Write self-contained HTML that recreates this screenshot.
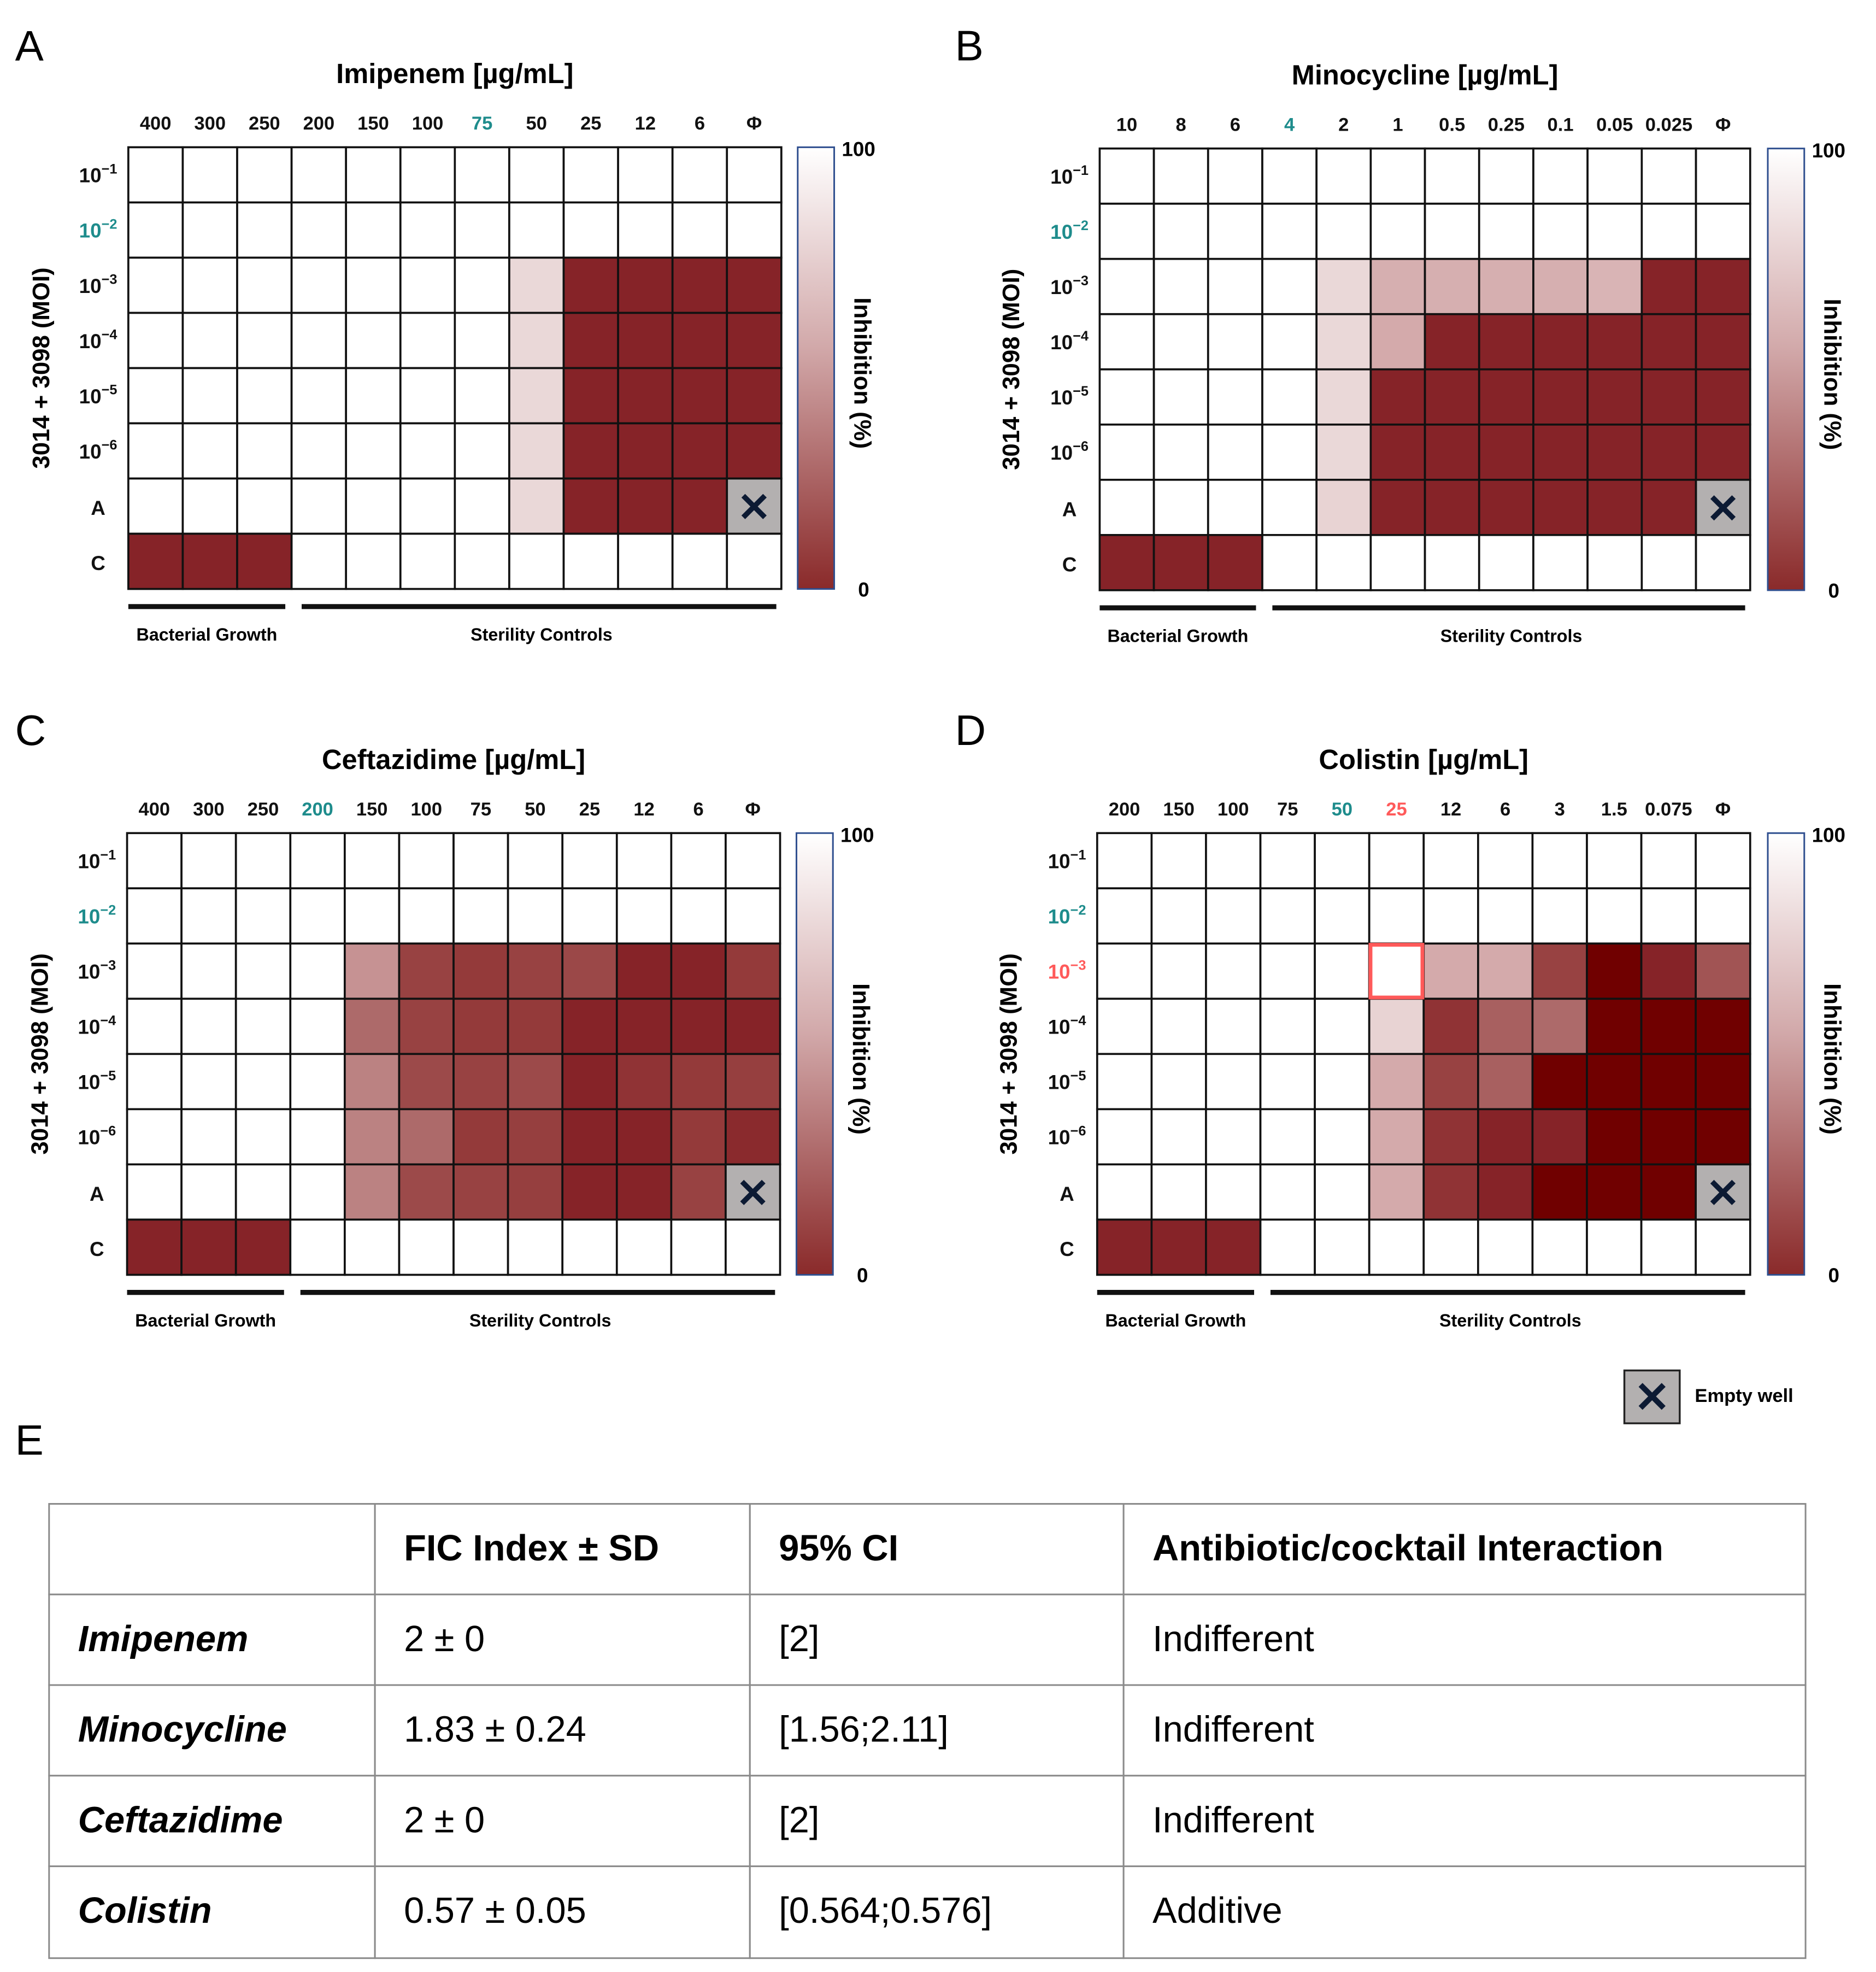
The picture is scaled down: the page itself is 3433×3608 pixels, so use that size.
<!DOCTYPE html>
<html><head><meta charset="utf-8"><style>
html,body{margin:0;padding:0;background:#fff;}
svg{display:block;font-family:"Liberation Sans",sans-serif;}
</style></head><body>
<svg id="fig" width="3433" height="3608" viewBox="0 0 1491 1567" preserveAspectRatio="none" xmlns="http://www.w3.org/2000/svg">
<defs><linearGradient id="cb" x1="0" y1="0" x2="0" y2="1"><stop offset="0" stop-color="#ffffff"/><stop offset="0.45" stop-color="#d2a9aa"/><stop offset="1" stop-color="#8a2a2a"/></linearGradient></defs>
<g id="root"></g>
<g>
<rect x="1291" y="1089" width="44" height="42" fill="#b3b0b0" stroke="#222" stroke-width="1.5"/>
<text x="1313" y="1122" text-anchor="middle" font-size="34" font-weight="bold" fill="#0c1a33">✕</text>
<text x="1347" y="1114" font-size="15" font-weight="bold">Empty well</text>
</g>
<text x="12" y="1156" font-size="34">E</text>
<g id="table"></g>
</svg>
<script>
const rowLabels=["-1","-2","-3","-4","-5","-6","A","C"];
const colsA=["400","300","250","200","150","100","75","50","25","12","6","Φ"];
const colsB=["10","8","6","4","2","1","0.5","0.25","0.1","0.05","0.025","Φ"];
const colsC=["400","300","250","200","150","100","75","50","25","12","6","Φ"];
const colsD=["200","150","100","75","50","25","12","6","3","1.5","0.075","Φ"];
const W=100,E=-1;
const valsA=[
[W,W,W,W,W,W,W,W,W,W,W,W],[W,W,W,W,W,W,W,W,W,W,W,W],
[W,W,W,W,W,W,W,90,15,15,15,15],[W,W,W,W,W,W,W,90,15,15,15,15],
[W,W,W,W,W,W,W,90,15,15,15,15],[W,W,W,W,W,W,W,90,15,15,15,15],
[W,W,W,W,W,W,W,90,15,15,15,E],[15,15,15,W,W,W,W,W,W,W,W,W]];
const valsB=[
[W,W,W,W,W,W,W,W,W,W,W,W],[W,W,W,W,W,W,W,W,W,W,W,W],
[W,W,W,W,90,74,74,74,74,76,15,15],[W,W,W,W,90,72,15,15,15,15,15,15],
[W,W,W,W,90,15,15,15,15,15,15,15],[W,W,W,W,90,15,15,15,15,15,15,15],
[W,W,W,W,88,15,15,15,15,15,15,E],[15,15,15,W,W,W,W,W,W,W,W,W]];
const valsC=[
[W,W,W,W,W,W,W,W,W,W,W,W],[W,W,W,W,W,W,W,W,W,W,W,W],
[W,W,W,W,62,30,25,30,34,15,15,25],[W,W,W,W,45,30,25,25,15,15,15,15],
[W,W,W,W,55,35,30,35,15,22,25,28],[W,W,W,W,55,45,25,28,15,15,25,18],
[W,W,W,W,55,35,30,28,15,15,30,E],[15,15,15,W,W,W,W,W,W,W,W,W]];
const valsD=[
[W,W,W,W,W,W,W,W,W,W,W,W],[W,W,W,W,W,W,W,W,W,W,W,W],
[W,W,W,W,W,W,72,72,30,0,15,38],[W,W,W,W,W,88,22,42,45,0,0,0],
[W,W,W,W,W,72,30,42,0,0,0,0],[W,W,W,W,W,72,22,15,15,0,0,0],
[W,W,W,W,W,72,22,15,0,0,0,E],[15,15,15,W,W,W,W,W,W,W,W,W]];
const titles=["Imipenem [µg/mL]","Minocycline [µg/mL]","Ceftazidime [µg/mL]","Colistin [µg/mL]"];
const tableHead=["","FIC Index ± SD","95% CI","Antibiotic/cocktail Interaction"];
const tableRows=[["Imipenem","2 ± 0","[2]","Indifferent"],["Minocycline","1.83 ± 0.24","[1.56;2.11]","Indifferent"],["Ceftazidime","2 ± 0","[2]","Indifferent"],["Colistin","0.57 ± 0.05","[0.564;0.576]","Additive"]];

const NS="http://www.w3.org/2000/svg";
function mk(tag,at,parent){const e=document.createElementNS(NS,tag);for(const k in at)e.setAttribute(k,at[k]);parent.appendChild(e);return e;}
const stops=[[0,[112,0,0]],[15,[134,35,40]],[25,[148,58,58]],[35,[156,74,74]],[45,[173,106,106]],[72,[212,170,171]],[90,[234,216,216]],[100,[255,255,255]]];
function color(v){for(let i=1;i<stops.length;i++){if(v<=stops[i][0]){const a=stops[i-1],b=stops[i];const t=(v-a[0])/(b[0]-a[0]);const c=a[1].map((x,j)=>Math.round(x+(b[1][j]-x)*t));return `rgb(${c})`;}}return "#fff";}
const root=document.getElementById('root');
const panels=[
{L:"A",lx:12,ly:48,x0:102,y0:117,x1:621,y1:468,cols:colsA,vals:valsA,teal:[6],red:[],redRow:-1,colY:103,rowX:78,yt:32,cbx:634},
{L:"B",lx:759,ly:48,x0:874,y0:118,x1:1391,y1:469,cols:colsB,vals:valsB,teal:[3],red:[],redRow:-1,colY:104,rowX:850,yt:803,cbx:1405},
{L:"C",lx:12,ly:592,x0:101,y0:662,x1:620,y1:1013,cols:colsC,vals:valsC,teal:[3],red:[],redRow:-1,colY:648,rowX:77,yt:31,cbx:633},
{L:"D",lx:759,ly:592,x0:872,y0:662,x1:1391,y1:1013,cols:colsD,vals:valsD,teal:[4],red:[5],redRow:2,colY:648,rowX:848,yt:801,cbx:1405}];
panels.forEach((p,pi)=>{
 const g=mk('g',{},root);
 
 
 const cw=(p.x1-p.x0)/12,ch=(p.y1-p.y0)/8;
 const xs=i=>p.x0+i*cw, ys=j=>p.y0+j*ch;
 const pl=mk('text',{x:p.lx,y:p.ly,'font-size':34},g);pl.textContent=p.L;
 
 
 const tt=mk('text',{x:(p.x0+p.x1)/2,y:p.colY-37,'font-size':22,'font-weight':'bold','text-anchor':'middle'},g);tt.textContent=titles[pi];
 
 
 p.cols.forEach((c,i)=>{const col=p.red.includes(i)?"#ff5a5a":p.teal.includes(i)?"#1e8c8c":"#111";
  const t=mk('text',{x:xs(i)+cw/2,y:p.colY,'font-size':15,'font-weight':'bold','text-anchor':'middle',fill:col},g);t.textContent=c;
  
  });
 rowLabels.forEach((r,j)=>{const col=(j===p.redRow)?"#ff5a5a":(j===1?"#1e8c8c":"#111");
  const t=mk('text',{x:p.rowX,y:ys(j)+ch/2+(j>=6?7:6),'font-size':16,'font-weight':'bold','text-anchor':'middle',fill:col},g);
  
  
  if(j<6){t.textContent="10";const s=mk('tspan',{dy:-7,'font-size':11},t);s.textContent="−"+r.slice(1);}else t.textContent=r;});
 const yt=mk('text',{transform:`translate(${p.yt+7},${(p.y0+p.y1)/2}) rotate(-90)`,'font-size':19,'font-weight':'bold','text-anchor':'middle'},g);yt.textContent="3014 + 3098 (MOI)";
 
 
 p.vals.forEach((row,j)=>row.forEach((v,i)=>{
  const r=mk('rect',{x:xs(i),y:ys(j),width:cw,height:ch,fill:v<0?"#b3b0b0":color(v),stroke:"#111","stroke-width":1.6},g);
  
  
  if(v<0){const x=mk('text',{x:xs(i)+cw/2,y:ys(j)+ch/2+12,'font-size':32,'font-weight':'bold','text-anchor':'middle',fill:'#0c1a33'},g);x.textContent="✕";
   
   }
 }));
 if(p.redRow>=0){const f=mk('rect',{x:xs(p.red[0])+1,y:ys(p.redRow)+1,width:cw-2,height:ch-2,fill:'none',stroke:'#ff5a5a','stroke-width':3},g);
  
  }
 const cb=mk('rect',{x:p.cbx,y:p.y0,width:29,height:p.y1-p.y0,fill:'url(#cb)',stroke:'#2f4f8f','stroke-width':1.3},g);
 
 
 const c1=mk('text',{x:p.cbx+35,y:p.y0+7,'font-size':16,'font-weight':'bold'},g);c1.textContent="100";
 
 
 const c0=mk('text',{x:p.cbx+48,y:p.y1+6,'font-size':16,'font-weight':'bold'},g);c0.textContent="0";
 
 
 const ct=mk('text',{transform:`translate(${p.cbx+45},${(p.y0+p.y1)/2-governorOffset()}) rotate(90)`,'font-size':19,'font-weight':'bold','text-anchor':'middle'},g);ct.textContent="Inhibition (%)";
 
 
 const ly=p.y1+14;
 mk('line',{x1:p.x0,y1:ly,x2:xs(3)-5,y2:ly,stroke:'#111','stroke-width':4},g);
 mk('line',{x1:xs(3)+8,y1:ly,x2:p.x1-4,y2:ly,stroke:'#111','stroke-width':4},g);
 const b1=mk('text',{x:(p.x0+xs(3)-5)/2,y:ly+27,'font-size':14,'font-weight':'bold','text-anchor':'middle'},g);b1.textContent="Bacterial Growth";
 
 
 const b2=mk('text',{x:(xs(3)+8+p.x1)/2,y:ly+27,'font-size':14,'font-weight':'bold','text-anchor':'middle'},g);b2.textContent="Sterility Controls";
 
 
});
function governorOffset(){return -4;}
const tb=document.getElementById('table');
const cx=[39,298,596,893,1435], ry=[1195,1267,1339,1411,1483,1556];
for(let j=0;j<5;j++)for(let i=0;i<4;i++){
 const r=mk('rect',{x:cx[i],y:ry[j],width:cx[i+1]-cx[i],height:ry[j+1]-ry[j],fill:'#fff',stroke:'#8a8a8a','stroke-width':1.3},tb);
 
 
 const txt=j===0?tableHead[i]:tableRows[j-1][i];
 const t=mk('text',{x:cx[i]+23,y:ry[j]+45,'font-size':29},tb);
 if(j===0||i===0)t.setAttribute('font-weight','bold');
 if(j>0&&i===0)t.setAttribute('font-style','italic');
 t.textContent=txt;
 
 
}
</script>
</body></html>
